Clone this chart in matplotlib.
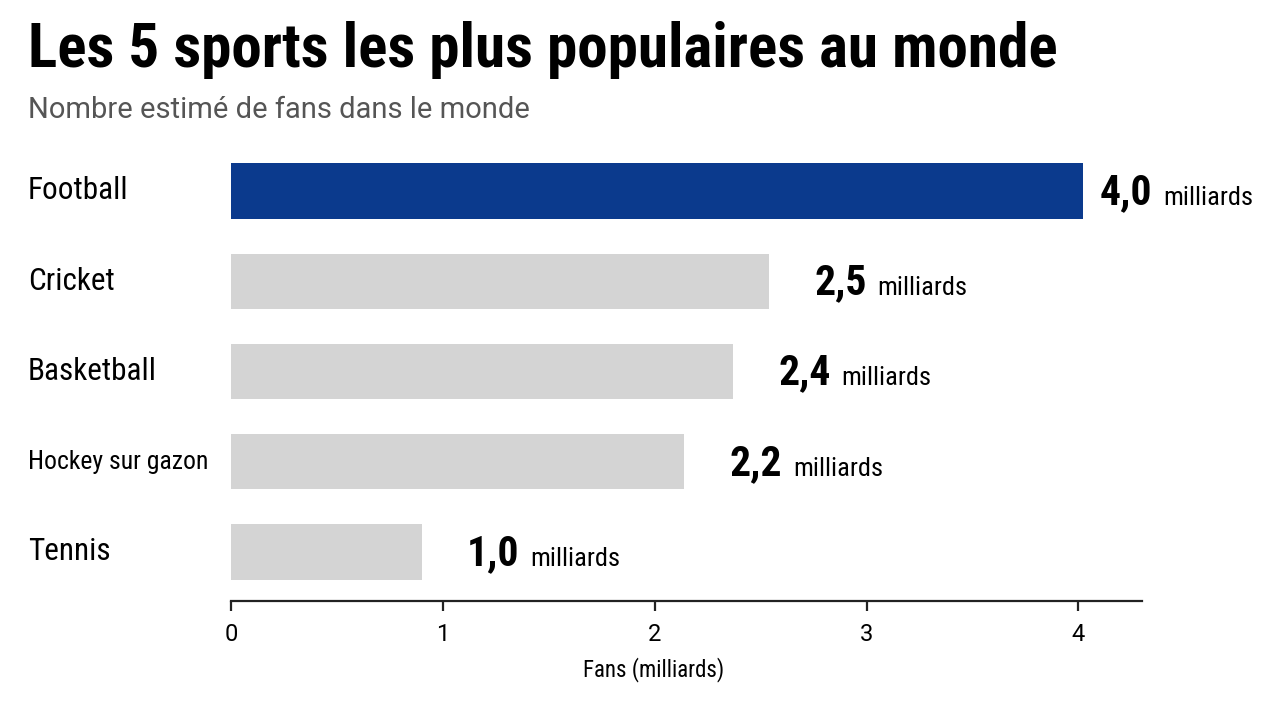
import matplotlib
matplotlib.use('Agg')
import matplotlib.pyplot as plt
from matplotlib.transforms import blended_transform_factory

plt.rcParams['font.family'] = ['Roboto Condensed', 'Roboto', 'DejaVu Sans']
plt.rcParams['font.stretch'] = 'condensed'
plain = ['Roboto', 'DejaVu Sans']

sports = ['Football', 'Cricket', 'Basketball', 'Hockey sur gazon', 'Tennis']
fans = [4.02, 2.54, 2.37, 2.14, 0.90]
value_labels = ['4,0', '2,5', '2,4', '2,2', '1,0']
xticks = [0, 1, 2, 3, 4]

blue = '#0b3a8d'
grey = '#d4d4d4'

fig = plt.figure(figsize=(12.8, 7.02), dpi=100)
ax = fig.add_axes([231/1280, 1 - 601/702, 911/1280, 441.6/702])

colours = [blue] + [grey] * (len(sports) - 1)
ypos = list(range(len(sports)))
ax.barh(ypos, fans, height=0.61, color=colours)

ax.set_xlim(0, 4.3)
ax.set_ylim(4.543, -0.35)

for i, (v, lab) in enumerate(zip(fans, value_labels)):
    off = 17 if i == 0 else 45
    t = ax.annotate(lab, (v, i), xytext=(off, -13), textcoords='offset pixels',
                    ha='left', va='baseline', fontsize=30, fontweight='bold')
    ax.annotate('milliards', (1, i), xycoords=(t, 'data'), xytext=(11, -14),
                textcoords='offset pixels', ha='left', va='baseline', fontsize=19)

ax.set_yticks(ypos)
ax.set_yticklabels([])
lab_tr = blended_transform_factory(fig.transFigure, ax.transData)
for i, s in enumerate(sports):
    # the long label is set smaller in the original
    fs = 18.5 if len(s) > 12 else 22.5
    ax.text(28/1280, i, s, transform=lab_tr, ha='left', va='center', fontsize=fs)
ax.tick_params(axis='y', length=0)

ax.set_xticks(xticks)
ax.set_xticklabels([str(x) for x in xticks], fontsize=17, family=plain)
ax.tick_params(axis='x', length=7.5, width=1.6, pad=8, color='#222222')
ax.set_xlabel('Fans (milliards)', fontsize=16.5, labelpad=8)
ax.xaxis.label.set_x(0.464)

for sp in ['top', 'right', 'left']:
    ax.spines[sp].set_visible(False)
ax.spines['bottom'].set_linewidth(1.6)
ax.spines['bottom'].set_color('#222222')

fig.text(28/1280, 1 - 67/702, 'Les 5 sports les plus populaires au monde',
         fontsize=44, fontweight='bold', ha='left', va='baseline')
fig.text(28/1280, 1 - 118/702, 'Nombre estimé de fans dans le monde',
         fontsize=21, color='#555555', ha='left', va='baseline',
         family=plain, fontstretch='normal')

fig.savefig('out.png', dpi=100)
